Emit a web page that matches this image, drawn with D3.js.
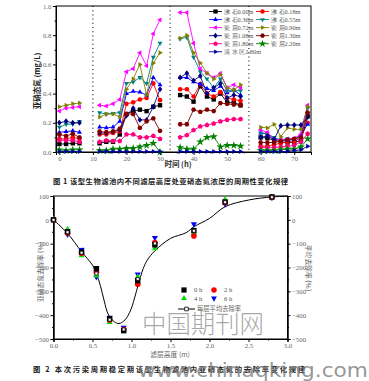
<!DOCTYPE html>
<html><head><meta charset="utf-8">
<script src="https://cdn.jsdelivr.net/npm/d3@7"></script>
<style>body{margin:0;background:#fff}svg{display:block}</style>
</head><body>
<svg id="c" width="369" height="381"></svg>
<script>
// ---------- DATA: Figure 1 ----------
const segTimes = [
  [0, 2, 4, 6],
  [12, 14, 16, 18, 20, 22, 24, 26, 28, 30],
  [36, 38, 40, 42, 44, 46, 48, 50, 52, 54],
  [60, 62, 64, 66, 68, 70, 72, 74]
];
const dividerTimes = [10, 33, 56.5];
const xTicksTop = [0, 10, 20, 30, 40, 50, 60, 70];
const yTicksTop = [0, 0.2, 0.4, 0.6, 0.8, 1.0];
const seriesNames = ["沸 石0.00m", "沸 石0.18m", "沸 石0.36m", "沸 石0.55m", "瓷 层0.72m", "瓷 层0.90m",
  "瓷 层1.08m", "瓷 层1.30m", "瓷 层1.80m", "瓷 层2.20m", "清 水 区2.80m"];
const z000 = [[0.055,0.055,0.06,0.06],[0.06,0.07,0.07,0.12,0.26,0.28,0.29,0.28,0.31,0.32],[0.39,0.38,0.345,0.45,0.38,0.36,0.40,0.34,0.34,0.32],[0.10,0.095,0.08,0.07,0.065,0.065,0.08,0.245]];
const z018 = [[0.09,0.09,0.10,0.09],[0.12,0.12,0.13,0.14,0.33,0.34,0.36,0.37,0.47,0.355],[0.43,0.43,0.38,0.465,0.40,0.38,0.41,0.37,0.36,0.35],[0.04,0.04,0.05,0.06,0.07,0.07,0.10,0.20]];
const z036 = [[0.135,0.14,0.145,0.135],[0.17,0.165,0.17,0.21,0.40,0.415,0.41,0.39,0.51,0.46],[0.51,0.51,0.48,0.465,0.435,0.42,0.45,0.405,0.425,0.39],[0.13,0.125,0.09,0.085,0.08,0.085,0.12,0.19]];
const z055 = [[0.17,0.19,0.19,0.21],[0.27,0.26,0.265,0.27,0.47,0.48,0.51,0.47,0.65,0.745],[0.775,0.785,0.65,0.55,0.50,0.44,0.50,0.42,0.42,0.42],[0.13,0.125,0.10,0.08,0.09,0.09,0.11,0.30]];
const c072 = [[0.28,0.30,0.305,0.31],[0.32,0.315,0.33,0.36,0.55,0.57,0.68,0.59,0.81,0.905],[0.955,0.955,0.745,0.57,0.54,0.51,0.54,0.44,0.46,0.44],[0.15,0.135,0.085,0.085,0.09,0.095,0.12,0.32]];
const c090 = [[0.31,0.32,0.33,0.335],[0.24,0.26,0.26,0.24,0.43,0.50,0.60,0.39,0.61,0.68],[0.78,0.80,0.68,0.61,0.54,0.50,0.53,0.44,0.425,0.46],[0.17,0.165,0.19,0.105,0.165,0.155,0.155,0.31]];
const c108 = [[0.20,0.21,0.20,0.20],[0.13,0.13,0.14,0.15,0.25,0.30,0.22,0.22,0.31,0.43],[0.51,0.54,0.49,0.52,0.40,0.44,0.47,0.37,0.39,0.38],[0.10,0.11,0.085,0.18,0.185,0.185,0.185,0.24]];
const c130 = [[0.12,0.11,0.125,0.10],[0.14,0.135,0.14,0.16,0.26,0.26,0.165,0.21,0.23,0.145],[0.19,0.19,0.29,0.275,0.29,0.28,0.335,0.33,0.325,0.32],[0.065,0.065,0.065,0.075,0.085,0.09,0.10,0.27]];
const c180 = [[0.08,0.08,0.08,0.07],[0.07,0.08,0.075,0.075,0.12,0.12,0.10,0.10,0.11,0.09],[0.10,0.115,0.15,0.175,0.185,0.195,0.21,0.22,0.225,0.225],[0.03,0.03,0.03,0.035,0.04,0.045,0.07,0.125]];
const c220 = [[0.015,0.01,0.015,0.015],[0.01,0.01,0.02,0.02,0.025,0.025,0.035,0.045,0.06,0.0],[0.03,0.02,0.02,0.07,0.10,0.105,0.035,0.045,0.045,0.04],[0.01,0.01,0.01,0.015,0.02,0.02,0.035,0.09]];
const q280 = [[0.003,0.003,0.003,0.003],[0.003,0.003,0.003,0.003,0.003,0.003,0.003,0.003,0.003,0.003],[0.003,0.003,0.003,0.003,0.003,0.003,0.003,0.003,0.003,0.003],[0.003,0.003,0.003,0.003,0.005,0.01,0.015,0.04]];
const seriesValues = [z000, z018, z036, z055, c072, c090, c108, c130, c180, c220, q280];

// ---------- DATA: Figure 2 ----------
const heights = [0, 0.18, 0.36, 0.55, 0.72, 0.90, 1.08, 1.30, 1.80, 2.20, 2.80];
const rem0h = [0, -50, -135, -205, -415, -465, -255, -105, -45, 75, 96];
const rem2h = [0, -55, -140, -220, -420, -460, -270, -95, -68, 72, 95];
const rem4h = [2, -40, -150, -235, -430, -462, -240, -120, -55, 85, 97];
const rem6h = [0, -62, -125, -240, -410, -452, -228, -75, -18, 65, 93];
const remAvg = [0, -52, -138, -225, -419, -460, -248, -99, -46, 74, 95];
const fitX = [0, 0.18, 0.36, 0.5, 0.55, 0.6, 0.65, 0.7, 0.78, 0.84, 0.9, 0.95, 1.0, 1.05, 1.08, 1.15, 1.2, 1.3, 1.5, 1.7, 1.8, 2.0, 2.2, 2.5, 2.8, 3.0];
const fitY = [0, -57, -134, -190, -225, -275, -340, -395, -428, -435, -425, -405, -370, -315, -280, -205, -170, -130, -78, -54, -29, 6, 55, 83, 96, 99];
const remLabels = ["0 h", "2 h", "4 h", "6 h"];
const avgLabel = "每层平均去除率";
const xTicksBot = [0, 0.5, 1.0, 1.5, 2.0, 2.5, 3.0];
const yTicksBot = [100, 0, -100, -200, -300, -400, -500];

// ---------- STYLE ----------
const colors = ["#000000", "#ff0000", "#0000ff", "#008080", "#ff00ff", "#808000", "#000080", "#800000", "#ff0080", "#008000", "#0000a0"];
const shapes = ["square", "circle", "up", "down", "left", "right", "diamond", "hexagon", "pentagon", "star", "right"];
const remColors = ["#000000", "#ff0000", "#00e000", "#0000ff"];
const remShapes = ["square", "circle", "up", "down"];
const serif = "'Liberation Serif','Times New Roman',serif";
const cjk = "'Noto Sans CJK SC','Noto Sans',sans-serif";

function poly(n, r, rot) {
  const p = [];
  for (let i = 0; i < n; i++) {
    const a = rot + i * 2 * Math.PI / n;
    p.push([r * Math.cos(a), r * Math.sin(a)]);
  }
  return "M" + p.map(q => q[0].toFixed(2) + "," + q[1].toFixed(2)).join("L") + "Z";
}
function shapePath(shape, s) {
  switch (shape) {
    case "square": return `M${-s},${-s}h${2*s}v${2*s}h${-2*s}Z`;
    case "circle": return d3.symbol(d3.symbolCircle, Math.PI * s * s * 1.1)();
    case "up": return poly(3, s * 1.3, -Math.PI / 2);
    case "down": return poly(3, s * 1.3, Math.PI / 2);
    case "left": return poly(3, s * 1.3, Math.PI);
    case "right": return poly(3, s * 1.3, 0);
    case "diamond": return `M0,${-s*1.35}L${s*1.05},0L0,${s*1.35}L${-s*1.05},0Z`;
    case "hexagon": return poly(6, s * 1.15, 0);
    case "pentagon": return poly(5, s * 1.2, -Math.PI / 2);
    case "star": return d3.symbol(d3.symbolStar, s * s * 4.2)();
  }
}

const svg = d3.select("#c");
svg.append("rect").attr("width", 369).attr("height", 381).attr("fill", "#fff");

// ================= FIGURE 1 =================
const xT = d3.scaleLinear().domain([-1, 75]).range([56, 311]);
const yT = d3.scaleLinear().domain([0, 1]).range([152, 6]);
const g1 = svg.append("g");

g1.selectAll("line.div").data(dividerTimes).join("line")
  .attr("x1", d => xT(d)).attr("x2", d => xT(d)).attr("y1", 6).attr("y2", 152)
  .attr("stroke", "#000").attr("stroke-width", 1.1).attr("stroke-dasharray", "1,3.2");

const axB1 = d3.axisBottom(xT).tickValues(xTicksTop).tickSize(3).tickPadding(1.5).tickFormat(d3.format("d"));
const axL1 = d3.axisLeft(yT).tickValues(yTicksTop).tickSize(3).tickPadding(1.5).tickFormat(d3.format(".1f"));
const gx1 = g1.append("g").attr("transform", "translate(0,152)").call(axB1);
const gy1 = g1.append("g").attr("transform", "translate(56,0)").call(axL1);
g1.append("g").attr("transform", "translate(0,152)")
  .call(d3.axisBottom(xT).tickValues(d3.range(5, 75, 10)).tickSize(1.5).tickFormat(""));
g1.append("g").attr("transform", "translate(56,0)")
  .call(d3.axisLeft(yT).tickValues(d3.range(0.1, 1, 0.2)).tickSize(1.5).tickFormat(""));
g1.append("rect").attr("x", 56).attr("y", 6).attr("width", 255).attr("height", 146)
  .attr("fill", "none").attr("stroke", "#000").attr("stroke-width", 1);

const lineT = d3.line().x(d => xT(d[0])).y(d => yT(d[1]));
seriesValues.forEach((sv, i) => {
  const gs = g1.append("g");
  sv.forEach((vals, k) => {
    const pts = segTimes[k].map((t, j) => [t, vals[j]]);
    gs.append("path").attr("d", lineT(pts)).attr("fill", "none")
      .attr("stroke", colors[i]).attr("stroke-width", 0.9);
    gs.selectAll(null).data(pts).join("path")
      .attr("transform", d => `translate(${xT(d[0])},${yT(d[1])})`)
      .attr("d", shapePath(shapes[i], 2.2)).attr("fill", colors[i]);
  });
});

const lg1 = g1.append("g");
seriesNames.forEach((name, i) => {
  const col = i % 2, row = Math.floor(i / 2);
  const x0 = col === 0 ? 209 : 256;
  const y0 = 11.5 + row * 8.05;
  lg1.append("line").attr("x1", x0).attr("x2", x0 + 13).attr("y1", y0).attr("y2", y0)
    .attr("stroke", colors[i]).attr("stroke-width", 0.9);
  lg1.append("path").attr("transform", `translate(${x0 + 6.5},${y0})`)
    .attr("d", shapePath(shapes[i], 2.1)).attr("fill", colors[i]);
  lg1.append("text").attr("x", x0 + 15).attr("y", y0 + 2.2).text(name)
    .attr("font-family", serif).attr("font-size", 6.3).attr("fill", "#555");
});

g1.append("text").attr("x", 178).attr("y", 167).attr("text-anchor", "middle")
  .attr("font-family", cjk).attr("font-size", 7.5).attr("font-weight", "bold").attr("fill", "#333").text("时间 (h)");
g1.append("text").attr("transform", "translate(40,81) rotate(-90)").attr("text-anchor", "middle")
  .attr("font-family", cjk).attr("font-size", 7.5).attr("font-weight", "bold").attr("fill", "#222").text("亚硝态氮 (mg/L)");
svg.append("text").attr("x", 53).attr("y", 184).attr("textLength", 235).attr("lengthAdjust", "spacing")
  .attr("font-family", cjk).attr("font-size", 7.3).attr("font-weight", "bold").attr("fill", "#222")
  .text("图 1  该型生物滤池内不同滤层高度处亚硝态氮浓度的周期性变化规律");

// ================= FIGURE 2 =================
const xB = d3.scaleLinear().domain([0, 3]).range([53.5, 287.5]);
const yB = d3.scaleLinear().domain([-500, 100]).range([339, 196]);
const g2 = svg.append("g");

const axB2 = d3.axisBottom(xB).tickValues(xTicksBot).tickSize(3).tickPadding(1.5).tickFormat(d3.format(".1f"));
const axL2 = d3.axisLeft(yB).tickValues(yTicksBot).tickSize(3).tickPadding(1.5).tickFormat(d3.format("d"));
const axR2 = d3.axisRight(yB).tickValues(yTicksBot).tickSize(3).tickPadding(1.5).tickFormat(d3.format("d"));
const gx2 = g2.append("g").attr("transform", "translate(0,339)").call(axB2);
const gy2 = g2.append("g").attr("transform", "translate(53.5,0)").call(axL2);
const gr2 = g2.append("g").attr("transform", "translate(287.5,0)").call(axR2);
g2.append("g").attr("transform", "translate(0,339)")
  .call(d3.axisBottom(xB).tickValues(d3.range(0.25, 3, 0.5)).tickSize(1.5).tickFormat(""));
g2.append("g").attr("transform", "translate(53.5,0)")
  .call(d3.axisLeft(yB).tickValues(d3.range(-450, 100, 100)).tickSize(1.5).tickFormat(""));
g2.append("g").attr("transform", "translate(287.5,0)")
  .call(d3.axisRight(yB).tickValues(d3.range(-450, 100, 100)).tickSize(1.5).tickFormat(""));
g2.append("rect").attr("x", 53.5).attr("y", 196).attr("width", 234).attr("height", 143)
  .attr("fill", "none").attr("stroke", "#000").attr("stroke-width", 1);

const fitLine = d3.line().curve(d3.curveCatmullRom).x(d => xB(d[0])).y(d => yB(d[1]));
g2.append("path").attr("d", fitLine(fitX.map((x, i) => [x, fitY[i]])))
  .attr("fill", "none").attr("stroke", "#000").attr("stroke-width", 1);

const remSeries = [rem0h, rem2h, rem4h, rem6h];
[3, 2, 1, 0].forEach(i => {
  g2.selectAll(null).data(heights.map((h, j) => [h, remSeries[i][j]])).join("path")
    .attr("transform", d => `translate(${xB(d[0])},${yB(d[1])})`)
    .attr("d", shapePath(remShapes[i], 2.7)).attr("fill", remColors[i]);
});
g2.selectAll(null).data(heights.map((h, j) => [h, remAvg[j]])).join("path")
  .attr("transform", d => `translate(${xB(d[0])},${yB(d[1])})`)
  .attr("d", shapePath("square", 1.5)).attr("fill", "#fff").attr("stroke", "#000").attr("stroke-width", 0.7);

const lg2 = g2.append("g");
remLabels.forEach((lab, i) => {
  const col = i % 2, row = Math.floor(i / 2);
  const x0 = col === 0 ? 184 : 214;
  const y0 = 290 + row * 8.3;
  lg2.append("path").attr("transform", `translate(${x0},${y0})`)
    .attr("d", shapePath(remShapes[i], 2.6)).attr("fill", remColors[i]);
  lg2.append("text").attr("x", x0 + 10).attr("y", y0 + 2.3).text(lab)
    .attr("font-family", serif).attr("font-size", 6.5).attr("fill", "#555");
});
lg2.append("line").attr("x1", 178).attr("x2", 195).attr("y1", 309).attr("y2", 309)
  .attr("stroke", "#000").attr("stroke-width", 1);
lg2.append("path").attr("transform", "translate(186.5,309)")
  .attr("d", shapePath("square", 1.8)).attr("fill", "#fff").attr("stroke", "#000").attr("stroke-width", 0.8);
lg2.append("text").attr("x", 197).attr("y", 311.3).text(avgLabel)
  .attr("font-family", cjk).attr("font-size", 6.3).attr("fill", "#666");

g2.append("text").attr("x", 170).attr("y", 357).attr("text-anchor", "middle")
  .attr("font-family", cjk).attr("font-size", 6.8).attr("fill", "#666").text("滤层高度 (m)");
g2.append("text").attr("transform", "translate(43,272) rotate(-90)").attr("text-anchor", "middle")
  .attr("font-family", cjk).attr("font-size", 6.8).attr("fill", "#666").text("亚硝态氮去除率 (%)");
g2.append("text").attr("transform", "translate(306,268) rotate(90)").attr("text-anchor", "middle")
  .attr("font-family", cjk).attr("font-size", 6.8).attr("fill", "#666").text("平均去除率 (%)");
svg.append("text").attr("x", 33).attr("y", 372).attr("textLength", 272).attr("lengthAdjust", "spacing")
  .attr("font-family", cjk).attr("font-size", 7.3).attr("font-weight", "bold").attr("fill", "#222")
  .text("图 2  本次污染周期稳定期该型生物滤池内亚硝态氮的去除率变化规律");

[gx1, gy1, gx2, gy2, gr2].forEach(g => {
  g.selectAll("text").attr("font-family", serif).attr("font-size", 6.8).attr("fill", "#666");
  g.selectAll("line").attr("stroke", "#000");
  g.select(".domain").attr("stroke", "#000");
});

// watermarks
svg.append("text").attr("x", 142).attr("y", 333).attr("textLength", 122).attr("lengthAdjust", "spacingAndGlyphs")
  .attr("font-family", cjk).attr("font-size", 25).attr("font-weight", 300)
  .attr("fill", "#8a8a8a").attr("fill-opacity", 0.75).text("中国期刊网");
svg.append("text").attr("x", 138).attr("y", 377).attr("textLength", 230).attr("lengthAdjust", "spacingAndGlyphs")
  .attr("font-family", "'DejaVu Sans',sans-serif").attr("font-size", 19)
  .attr("fill", "#7a7a7a").attr("fill-opacity", 0.8).text("www.chinaqking.com");
</script>
</body></html>
